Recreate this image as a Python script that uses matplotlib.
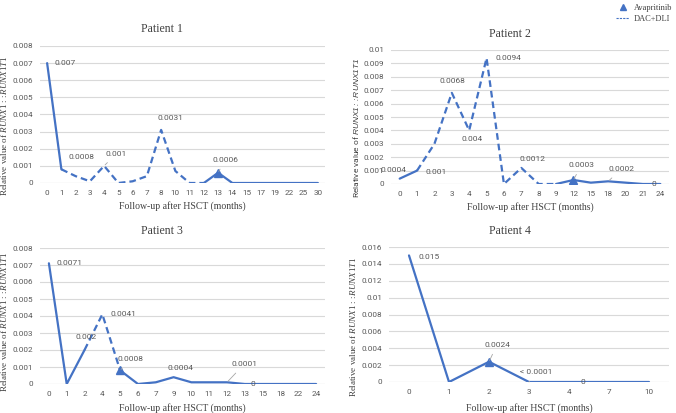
import matplotlib
matplotlib.use("Agg")
import matplotlib.pyplot as plt
from matplotlib.lines import Line2D
import numpy as np

plt.rcParams['mathtext.fontset'] = 'custom'
plt.rcParams['mathtext.rm'] = 'Liberation Serif'
plt.rcParams['mathtext.it'] = 'Liberation Serif:italic'
plt.rcParams['mathtext.sf'] = 'Liberation Sans:italic'

# ---------------- data ----------------
p1_months = ["0", "1", "2", "3", "4", "5", "6", "7", "8", "10", "11", "12", "13", "14", "15", "17", "19", "22", "25", "30"]
p1_values = [0.007, 0.0008, 0.0004, 0.0001, 0.001, 0.0, 0.0001, 0.0004, 0.0031, 0.0007, 0.0, 0.0, 0.0006, 0.0, 0.0, 0.0, 0.0, 0.0, 0.0, 0.0]
p1_dashed = [False, True, True, True, True, True, True, True, True, True, True, False, False, False, False, False, False, False, False]
p1_avapritinib = ["13"]
p1_labels = [("0.007", "0"), ("0.0008", "1"), ("0.001", "4"), ("0.0031", "8"), ("0.0006", "13")]

p2_months = ["0", "1", "2", "3", "4", "5", "6", "7", "8", "9", "12", "15", "18", "20", "21", "24"]
p2_values = [0.0004, 0.001, 0.003, 0.0068, 0.004, 0.0094, 0.0, 0.0012, 0.0, 0.0, 0.0003, 0.0001, 0.0002, 0.0001, 0.0, 0.0]
p2_dashed = [False, True, True, True, True, True, True, True, True, False, False, False, False, False, False]
p2_avapritinib = ["12"]
p2_labels = [("0.0004", "0"), ("0.001", "1"), ("0.0068", "3"), ("0.004", "4"), ("0.0094", "5"),
             ("0.0012", "7"), ("0.0003", "12"), ("0.0002", "18"), ("0", "21")]

p3_months = ["0", "1", "2", "4", "5", "6", "7", "9", "10", "11", "12", "13", "15", "18", "22", "24"]
p3_values = [0.0071, 0.0, 0.002, 0.0041, 0.0008, 0.0, 0.0001, 0.0004, 0.0001, 0.0001, 0.0001, 0.0, 0.0, 0.0, 0.0, 0.0]
p3_dashed = [False, False, True, True, False, False, False, False, False, False, False, False, False, False, False]
p3_avapritinib = ["5"]
p3_labels = [("0.0071", "0"), ("0.002", "2"), ("0.0041", "4"), ("0.0008", "5"), ("0.0004", "9"),
             ("0.0001", "12"), ("0", "13")]

p4_months = ["0", "1", "2", "3", "4", "7", "10"]
p4_values = [0.015, 0.0, 0.0024, 0.0, 0.0, 0.0, 0.0]
p4_dashed = [False, False, False, False, False, False]
p4_avapritinib = ["2"]
p4_labels = [("0.015", "0"), ("0.0024", "2"), ("< 0.0001", "3"), ("0", "4")]

titles = ["Patient 1", "Patient 2", "Patient 3", "Patient 4"]
ymax = [0.008, 0.01, 0.008, 0.016]
ystep = [0.001, 0.001, 0.001, 0.002]

# ---------------- style ----------------
BLUE = "#4472C4"
GRAY = "#595959"
GRID = "#D9D9D9"
TXT = "#404040"
SANS = "Roboto"
SERIF = "Liberation Serif"

# label offsets in pixels, and whether a leader line is drawn
p1_off = [(18, 0, False), (20, 12, False), (12, 12, True), (9, 12, False), (7, 13, True)]
p2_off = [(-6, 9, False), (19, -1, False), (1, 12, False), (3, -9, False), (22, 0, False),
          (11, 9, False), (8, 15, True), (13, 12, True), (11, 0, False)]
p3_off = [(21, 0, False), (2, 13, False), (21, 0, False), (10, 11, True), (7, 9, False),
          (17, 18, True), (8, 0, False)]
p4_off = [(20, -2, False), (8, 17, True), (7, 10, True), (14, 0, False)]

fig = plt.figure(figsize=(6.76, 4.13), dpi=100)

rects = [
    [40/676, 1-183/413, 285/676, 137/413],
    [391/676, 1-184/413, 278/676, 134/413],
    [40/676, 1-384/413, 285/676, 136/413],
    [389/676, 1-382/413, 280/676, 135/413],
]
ylab_xy = [(-0.109, 0.42), (-0.108, 0.42), (-0.109, 0.46), (-0.111, 0.41)]
xlab_y = [-0.131, -0.134, -0.14, -0.155]
title_x = [0.428, 0.428, 0.428, 0.432]
ylabel_texts = [
    r"Relative value of $\mathit{RUNX1{:}{:}RUNX1T1}$",
    r"Relative value of $\mathsf{RUNX1{:}{:}RUNX1T1}$",
    r"Relative value of $\mathit{RUNX1{:}{:}RUNX1T1}$",
    r"Relative value of $\mathit{RUNX1{:}{:}RUNX1T1}$",
]
ylabel_fonts = [SERIF, SANS, SERIF, SERIF]

panels = [
    (p1_months, p1_values, p1_dashed, p1_avapritinib, p1_labels, p1_off),
    (p2_months, p2_values, p2_dashed, p2_avapritinib, p2_labels, p2_off),
    (p3_months, p3_values, p3_dashed, p3_avapritinib, p3_labels, p3_off),
    (p4_months, p4_values, p4_dashed, p4_avapritinib, p4_labels, p4_off),
]

for k, (months, values, dashed, ava, labels, offs) in enumerate(panels):
    ax = fig.add_axes(rects[k])
    n = len(months)
    x = np.arange(n)
    y = np.array(values)
    # segments
    i = 0
    while i < n - 1:
        j = i
        while j + 1 < n - 1 and dashed[j + 1] == dashed[i]:
            j += 1
        ls = (0, (3, 1.8)) if dashed[i] else "-"
        ax.plot(x[i:j + 2], y[i:j + 2], color=BLUE, lw=1.6, ls=ls,
                solid_capstyle="round", dash_capstyle="butt", zorder=3)
        i = j + 1
    # avapritinib markers
    for m in ava:
        idx = months.index(m)
        ax.plot(x[idx], y[idx], marker="^", color=BLUE, ms=6, ls="none", zorder=4)
    # data labels
    for (txt, m), (dx, dy, lead) in zip(labels, offs):
        idx = months.index(m)
        ap = dict(arrowstyle="-", color="#A6A6A6", lw=0.6, shrinkA=3, shrinkB=1) if lead else None
        ax.annotate(txt, (x[idx], y[idx]), xytext=(dx, dy), textcoords="offset pixels",
                    ha="center", va="center", fontsize=6, color=GRAY, family=SANS,
                    arrowprops=ap, zorder=5)
    ax.set_xlim(-0.5, n - 0.5)
    ax.set_ylim(0, ymax[k])
    yt = np.round(np.arange(0, ymax[k] + ystep[k] / 2, ystep[k]), 4)
    ax.set_yticks(yt)
    ax.set_yticklabels([f"{v:g}" for v in yt])
    ax.set_xticks(x)
    ax.set_xticklabels(months)
    for s in ax.spines.values():
        s.set_visible(False)
    ax.grid(axis="y", color=GRID, lw=0.8)
    ax.set_axisbelow(True)
    ax.axhline(0, color=GRID, lw=0.8, zorder=1)
    ax.tick_params(length=0, labelsize=5.9, labelcolor=GRAY, pad=5)
    for lab in ax.get_xticklabels() + ax.get_yticklabels():
        lab.set_family(SANS)
    ax.set_title(titles[k], fontsize=8.5, family=SERIF, color=TXT,
                 x=title_x[k], y=1.10, pad=0)
    ax.set_xlabel("Follow-up after HSCT (months)", fontsize=7, family=SERIF, color=TXT)
    ax.xaxis.set_label_coords(0.5, xlab_y[k])
    ax.set_ylabel(ylabel_texts[k], fontsize=6.5 if k != 1 else 6, family=ylabel_fonts[k], color=TXT)
    ax.yaxis.set_label_coords(*ylab_xy[k])

handles = [
    Line2D([], [], marker="^", color=BLUE, ls="none", ms=4),
    Line2D([], [], color=BLUE, ls=(0, (2, 1)), lw=0.8),
]
fig.legend(handles, ["Avapritinib", "DAC+DLI"], loc="upper right", bbox_to_anchor=(1.0, 1.0),
           frameon=False, prop=dict(family=SERIF, size=6), handlelength=1.6, handletextpad=0.5,
           labelspacing=0.3, borderaxespad=0.1, labelcolor=TXT)

fig.savefig("out.png", dpi=100)
